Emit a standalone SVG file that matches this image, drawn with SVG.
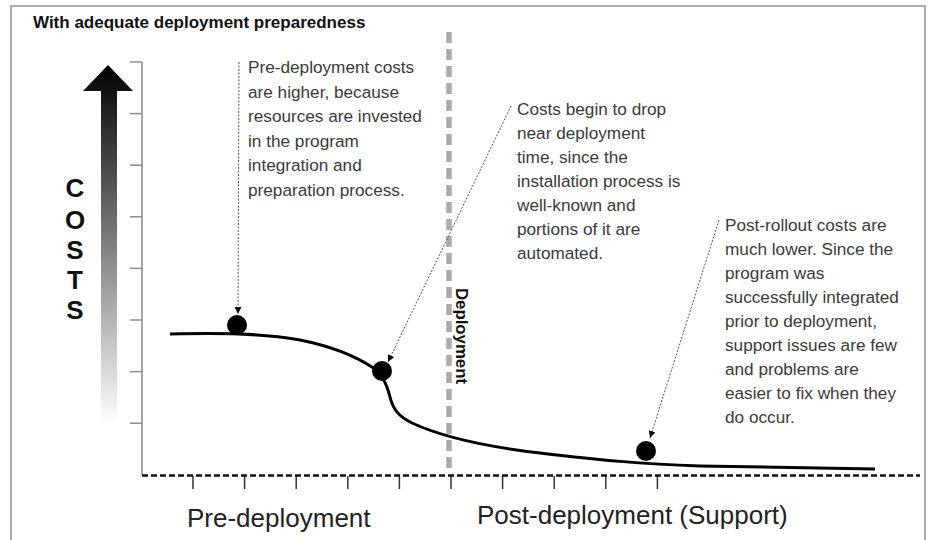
<svg xmlns="http://www.w3.org/2000/svg" width="928" height="540" viewBox="0 0 928 540">
<style>
.note{font-family:"Liberation Sans",Arial,sans-serif;font-size:17.2px;fill:#3a3a3a}
.bold{font-family:"Liberation Sans",Arial,sans-serif;font-weight:bold;fill:#111}
.big{font-family:"Liberation Sans",Arial,sans-serif;font-size:26px;fill:#222}
.ytick{stroke:#8a8a8a;stroke-width:1.5}
.xtick{stroke:#333;stroke-width:1.5}
.ptr{stroke:#555;stroke-width:1;stroke-dasharray:2 1.5;fill:none}
.dot{fill:#000}
</style>
<defs>
<linearGradient id="g" x1="0" y1="0" x2="0" y2="1">
<stop offset="0" stop-color="#000"/>
<stop offset="1" stop-color="#fff"/>
</linearGradient>
<marker id="ah" viewBox="0 0 10 10" refX="10" refY="5" markerWidth="7" markerHeight="7" orient="auto" markerUnits="userSpaceOnUse">
<path d="M0,0 L10,5 L0,10 z" fill="#111"/>
</marker>
</defs>
<rect x="0" y="0" width="928" height="540" fill="#fff"/>
<rect x="11" y="6" width="914" height="540" fill="none" stroke="#b3abab" stroke-width="2"/>
<text class="bold" x="33" y="28" font-size="17">With adequate deployment preparedness</text>
<g id="costs-arrow">
<path d="M101,91 L83,91 L108,65 L133,91 L117,91 L117,425 L101,425 z" fill="url(#g)"/>
<g class="bold" font-size="26" text-anchor="middle">
<text x="75" y="197">C</text>
<text x="75" y="229">O</text>
<text x="75" y="259">S</text>
<text x="75" y="289">T</text>
<text x="75" y="319">S</text>
</g>
</g>
<g id="axes">
<line x1="142" y1="62" x2="142" y2="475" stroke="#8a8a8a" stroke-width="1.5"/>
<line class="ytick" x1="130" y1="62" x2="142" y2="62"/>
<line class="ytick" x1="130" y1="113.6" x2="142" y2="113.6"/>
<line class="ytick" x1="130" y1="165.2" x2="142" y2="165.2"/>
<line class="ytick" x1="130" y1="216.8" x2="142" y2="216.8"/>
<line class="ytick" x1="130" y1="268.4" x2="142" y2="268.4"/>
<line class="ytick" x1="130" y1="320" x2="142" y2="320"/>
<line class="ytick" x1="130" y1="371.6" x2="142" y2="371.6"/>
<line class="ytick" x1="130" y1="423.2" x2="142" y2="423.2"/>
<line class="xtick" x1="193" y1="476" x2="193" y2="489"/>
<line class="xtick" x1="244.6" y1="476" x2="244.6" y2="489"/>
<line class="xtick" x1="296.2" y1="476" x2="296.2" y2="489"/>
<line class="xtick" x1="347.8" y1="476" x2="347.8" y2="489"/>
<line class="xtick" x1="399.4" y1="476" x2="399.4" y2="489"/>
<line class="xtick" x1="451" y1="476" x2="451" y2="489"/>
<line class="xtick" x1="502.6" y1="476" x2="502.6" y2="489"/>
<line class="xtick" x1="554.2" y1="476" x2="554.2" y2="489"/>
<line class="xtick" x1="605.8" y1="476" x2="605.8" y2="489"/>
<line class="xtick" x1="657.4" y1="476" x2="657.4" y2="489"/>
<line x1="142" y1="475.5" x2="920" y2="475.5" stroke="#111" stroke-width="2.5" stroke-dasharray="6 3"/>
</g>
<g id="deployment">
<line x1="449" y1="32" x2="449" y2="471" stroke="#b0a9a9" stroke-width="5.5" stroke-dasharray="11 6"/>
<text class="bold" font-size="16.8" transform="translate(456,288) rotate(90)">Deployment</text>
</g>
<g id="curve">
<path d="M170,334 C220,333 260,333 300,340 C330,346 355,356 372,367 C382,373 387,385 390,397 C393,409 398,416 412,423 C440,436 480,446 540,453 C600,460 640,464 700,466 L875,469" fill="none" stroke="#000" stroke-width="3"/>
</g>
<g id="dot1"><circle class="dot" cx="237" cy="325" r="10"/></g>
<g id="dot2"><circle class="dot" cx="382" cy="371" r="10"/></g>
<g id="dot3"><circle class="dot" cx="646" cy="451" r="10"/></g>
<g id="connectors">
<line class="ptr" x1="239" y1="62" x2="238" y2="314" marker-end="url(#ah)"/>
<line class="ptr" x1="511" y1="106" x2="388" y2="362" marker-end="url(#ah)"/>
<line class="ptr" x1="719" y1="220" x2="650" y2="438" marker-end="url(#ah)"/>
</g>
<g id="note1" class="note">
<text x="248" y="73">Pre-deployment costs</text>
<text x="248" y="97.5">are higher, because</text>
<text x="248" y="122">resources are invested</text>
<text x="248" y="146.5">in the program</text>
<text x="248" y="171">integration and</text>
<text x="248" y="195.5">preparation process.</text>
</g>
<g id="note2" class="note">
<text x="517" y="115">Costs begin to drop</text>
<text x="517" y="139">near deployment</text>
<text x="517" y="163">time, since the</text>
<text x="517" y="187">installation process is</text>
<text x="517" y="211">well-known and</text>
<text x="517" y="235">portions of it are</text>
<text x="517" y="259">automated.</text>
</g>
<g id="note3" class="note">
<text x="725" y="231">Post-rollout costs are</text>
<text x="725" y="255">much lower. Since the</text>
<text x="725" y="279">program was</text>
<text x="725" y="303">successfully integrated</text>
<text x="725" y="327">prior to deployment,</text>
<text x="725" y="351">support issues are few</text>
<text x="725" y="375">and problems are</text>
<text x="725" y="399">easier to fix when they</text>
<text x="725" y="423">do occur.</text>
</g>
<text id="pre" class="big" x="187" y="527">Pre-deployment</text>
<text id="post" class="big" x="477" y="524">Post-deployment (Support)</text>
</svg>
